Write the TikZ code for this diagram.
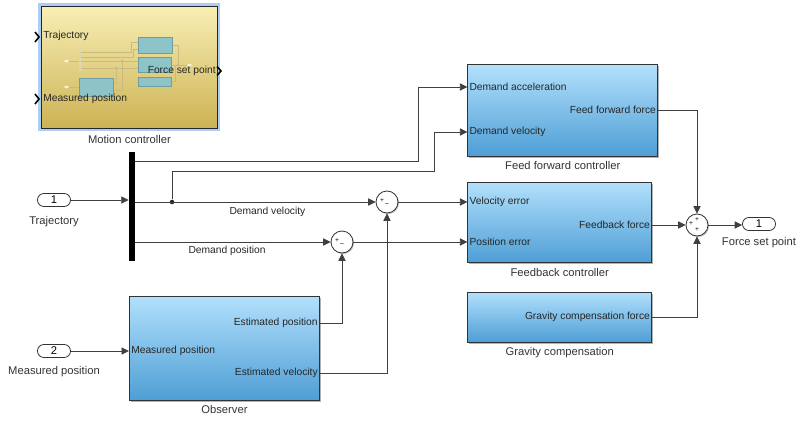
\documentclass[tikz,border=0pt]{standalone}
\usepackage{fontspec}
\setmainfont{Liberation Sans}
\usetikzlibrary{arrows.meta, positioning, shadows}
\definecolor{blocktop}{RGB}{178, 224, 252}
\definecolor{blockbot}{RGB}{78, 158, 213}
\definecolor{subtop}{RGB}{248, 239, 180}
\definecolor{subbot}{RGB}{204, 178, 84}
\definecolor{halo}{RGB}{172, 206, 245}
\definecolor{thumbbox}{RGB}{140, 196, 200}
\definecolor{thumbline}{RGB}{200, 186, 128}
\tikzset{
  sig/.style={-{Triangle[length=5.6pt, width=5.4pt]}, line width=0.65pt, black!75},
  block/.style={draw=black!80, line width=0.7pt, top color=blocktop, bottom color=blockbot,
    inner sep=0pt, anchor=north west,
    drop shadow={shadow xshift=1.1pt, shadow yshift=-1.1pt, opacity=0.3, fill=black}},
  subsys/.style={draw=black!85, line width=0.7pt, top color=subtop, bottom color=subbot,
    inner sep=0pt, anchor=north west, preaction={draw=halo, line width=4.5pt}},
  portlbl/.style={font=\fontsize{7.7}{9}\selectfont, text=black!85, inner sep=1.5pt},
  sglbl/.style={font=\fontsize{7.7}{9}\selectfont, text=black!85, inner sep=1pt},
  blkname/.style={font=\fontsize{8.4}{10}\selectfont, text=black!80, inner sep=1.5pt},
  sumblk/.style={circle, draw=black!80, line width=0.6pt, fill=white, minimum size=16.5pt, inner sep=0pt,
    drop shadow={shadow xshift=0.8pt, shadow yshift=-0.8pt, opacity=0.25, fill=black}},
  sgn/.style={font=\fontsize{5}{5}\selectfont, inner sep=0pt},
  inport/.style={draw=black!80, line width=0.6pt, fill=white, rounded corners=4.8pt, minimum width=24.75pt,
    minimum height=9.75pt, inner sep=0pt, font=\fontsize{8.4}{9}\selectfont},
  muxbar/.style={fill=black, draw=none, minimum width=4.5pt, minimum height=81.75pt, inner sep=0pt},
  dot/.style={circle, fill=black!85, minimum size=3.4pt, inner sep=0pt},
  chev/.style={line width=1.2pt, black},
  thumb/.style={fill=thumbbox, draw=thumbbox!80!black, line width=0.3pt},
  thumbwire/.style={thumbline, line width=0.45pt}
}

\begin{document}
\begin{tikzpicture}[x=0.75pt, y=-0.75pt]
  \useasboundingbox (0,0) rectangle (796,421);

  % motion controller
  \node (mc) [subsys, minimum width=132pt, minimum height=91.5pt] at (41,6) {};
  \node (mcname) [blkname, below=3.5pt of mc] {Motion controller};
  % thumbnail of the subsystem
  \fill[thumbline!60] (79,50) rectangle (81.5,71);
  \draw[thumbwire] (69,61) -- (79,61);
  \draw[thumbwire] (81,52) -- (131.5,52) -- (131.5,42) -- (138,42);
  \draw[thumbwire] (81,57) -- (133,57) -- (133,49) -- (138,49);
  \draw[thumbwire] (81,61) -- (138,61);
  \draw[thumbwire] (81,68) -- (138,68);
  \draw[thumbwire] (69,87) -- (79,87);
  \draw[thumbwire] (113,83) -- (116,83) -- (116,68);
  \draw[thumbwire] (113,90) -- (122,90) -- (122,61);
  \draw[thumbwire] (172,45) -- (178,45) -- (178,65);
  \draw[thumbwire] (171,65) -- (187,65);
  \draw[thumbwire] (171,81) -- (175,81) -- (175,65);
  \fill[thumbline] (116,68) circle (1.4) (122,61) circle (1.4) (178,65) circle (1.4);
  \fill[white!80!thumbline, rounded corners=1pt] (64,59.8) rectangle (69,62.2)
    (64,85.8) rectangle (69,88.2) (187,63.8) rectangle (192,66.2);
  \draw[thumb] (138.3,37.3) rectangle (171.7,53.3);
  \draw[thumb] (138.3,57.3) rectangle (170.7,71.7);
  \draw[thumb] (138.3,77.3) rectangle (170.7,85.7);
  \draw[thumb] (79.3,77.7) rectangle (112.7,96);
  \node (mctraj) [portlbl, anchor=west] at (mc.west |- 0,36) {Trajectory};
  \node (mcmeas) [portlbl, anchor=west] at (mc.west |- 0,99) {Measured position};
  \node (mcforce) [portlbl, anchor=east] at (mc.east |- 0,71) {Force set point};
  \draw[chev] (35,32) -- (39,37) -- (35,42);
  \draw[chev] (35,94) -- (39,99) -- (35,104);
  \draw[chev] (217,66.5) -- (221,71) -- (217,75.5);

  % inports and mux
  \node (in1) [inport] at (54,200) {1};
  \node (in1name) [blkname, below=5.5pt of in1] {Trajectory};
  \node (in2) [inport] at (54,351) {2};
  \node (in2name) [blkname, below=4.5pt of in2] {Measured position};
  \node (mux) [muxbar] at (132,206.5) {};
  \node (jv) [dot] at (172,202) {};

  % feed forward controller
  \node (ff) [block, minimum width=142.5pt, minimum height=68.5pt] at (467.3,64.3) {};
  \node (ffname) [blkname, below=2pt of ff] {Feed forward controller};
  \node (ffacc) [portlbl, anchor=west] at (ff.west |- 0,87) {Demand acceleration};
  \node (ffvel) [portlbl, anchor=west] at (ff.west |- 0,132) {Demand velocity};
  \node (ffout) [portlbl, anchor=east] at (ff.east |- 0,110) {Feed forward force};

  % feedback controller
  \node (fb) [block, minimum width=138pt, minimum height=60.5pt] at (467.3,181.7) {};
  \node (fbname) [blkname, below=2pt of fb] {Feedback controller};
  \node (fbvel) [portlbl, anchor=west] at (fb.west |- 0,202) {Velocity error};
  \node (fbpos) [portlbl, anchor=west] at (fb.west |- 0,242) {Position error};
  \node (fbout) [portlbl, anchor=east] at (fb.east |- 0,225) {Feedback force};

  % gravity compensation
  \node (gc) [block, minimum width=138pt, minimum height=37.5pt] at (467.3,291.7) {};
  \node (gcname) [blkname, below=2pt of gc] {Gravity compensation};
  \node (gcout) [portlbl, anchor=east] at (gc.east |- 0,317) {Gravity compensation force};

  % observer
  \node (obs) [block, minimum width=142.5pt, minimum height=78.2pt] at (129,295.7) {};
  \node (obsname) [blkname, below=2pt of obs] {Observer};
  \node (obsmeas) [portlbl, anchor=west] at (obs.west |- 0,351) {Measured position};
  \node (obspos) [portlbl, anchor=east] at (obs.east |- 0,323) {Estimated position};
  \node (obsvel) [portlbl, anchor=east] at (obs.east |- 0,373) {Estimated velocity};

  % sums
  \node (s1) [sumblk] at (387,202) {};
  \node (s1a) [sgn] at ([shift={(-5,-1)}]s1) {+};
  \node (s1b) [sgn] at ([shift={(0,3)}]s1) {--};
  \node (s2) [sumblk] at (342,242) {};
  \node (s2a) [sgn] at ([shift={(-5,-1)}]s2) {+};
  \node (s2b) [sgn] at ([shift={(0,3)}]s2) {--};
  \node (s3) [sumblk] at (697,225) {};
  \node (s3a) [sgn] at ([shift={(0,-5.5)}]s3) {+};
  \node (s3b) [sgn] at ([shift={(-6,-1)}]s3) {+};
  \node (s3c) [sgn] at ([shift={(0,4.5)}]s3) {+};

  % outport
  \node (out1) [inport] at (759,224) {1};
  \node (out1name) [blkname, below=3.5pt of out1] {Force set point};

  % signals
  \draw[sig] (in1) -- (mux.west |- in1);
  \draw[sig] (in2) -- (obsmeas.west);
  \draw[sig] (mux.east |- 0,161) -| (418,87) -- (ffacc.west);
  \draw[sig] (mux.east |- jv) -- node[sglbl, below=2.5pt, pos=0.55] {Demand velocity} (s1.west);
  \draw[sig] (jv) |- (434,171) |- (ffvel.west);
  \draw[sig] (mux.east |- s2) -- node[sglbl, below=2pt, pos=0.47] {Demand position} (s2.west);
  \draw[sig] (s1.east) -- (fbvel.west);
  \draw[sig] (s2.east) -- (fbpos.west);
  \draw[sig] (obspos.east) -| (s2.south);
  \draw[sig] (obsvel.east) -| (s1.south);
  \draw[sig] (ffout.east) -| (s3.north);
  \draw[sig] (fbout.east) -- (s3.west);
  \draw[sig] (gcout.east) -| (s3.south);
  \draw[sig] (s3.east) -- (out1.west |- s3);
\end{tikzpicture}
\end{document}
